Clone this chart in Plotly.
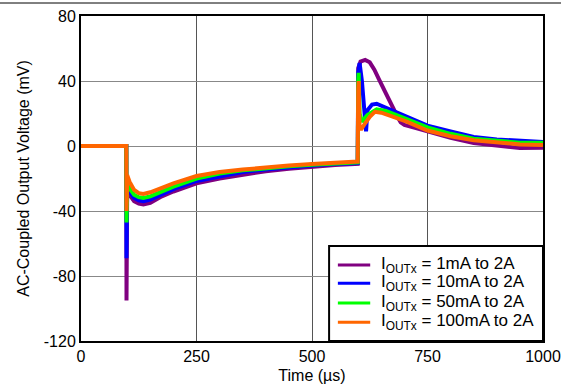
import plotly.graph_objects as go

# ---- data ----
names = ["I<sub>OUTx</sub> = 1mA to 2A", "I<sub>OUTx</sub> = 10mA to 2A",
         "I<sub>OUTx</sub> = 50mA to 2A", "I<sub>OUTx</sub> = 100mA to 2A"]
colors = ["#800080", "#0000FF", "#00FF00", "#FF6600"]

t_1mA = [0, 50, 98, 98.5, 99, 100, 105, 115, 125, 135, 150, 175, 200, 250, 300, 350, 400, 450, 500, 550, 599,
         600, 605, 615, 625, 635, 645, 655, 670, 685, 692, 700, 725, 750, 800, 850, 900, 950, 1000]
v_1mA = [0, 0, 0, -95, -40, -26, -30, -34, -35.5, -36, -35, -31, -28, -23, -20, -17.5, -15.5, -14, -12.7, -11.7, -11,
         48, 52, 53, 51.5, 47, 41, 35, 27, 18, 14.5, 13, 11, 8.8, 5, 1.8, 0, -1.2, -1]

t_10mA = [0, 50, 98, 98.5, 99, 100, 105, 115, 125, 135, 150, 175, 200, 250, 300, 350, 400, 450, 500, 550, 599,
          600, 603, 608, 613, 617, 620, 630, 640, 660, 680, 705, 750, 800, 850, 900, 950, 1000]
v_10mA = [0, 0, 0, -69, -35, -24, -28, -32, -33.5, -34, -33, -29.5, -26.5, -21.5, -18.5, -16, -14.5, -13, -12, -11, -10.5,
          45, 51, 40, 20, 9, 22, 25.5, 26, 23.5, 21, 18, 12.5, 9, 5.5, 4, 3, 2.5]

t_50mA = [0, 50, 98, 98.5, 99, 100, 105, 115, 125, 135, 150, 175, 200, 250, 300, 350, 400, 450, 500, 550, 599,
          600, 601, 603, 608, 620, 640, 660, 680, 705, 750, 800, 850, 900, 950, 1000]
v_50mA = [0, 0, 0, -47, -30, -22, -26, -30, -31.5, -32, -31, -28, -25, -20, -17, -15, -13.5, -12.5, -11.5, -10.5, -10,
          40, 45, 20, 15, 19, 22.5, 21.5, 19.5, 16.5, 11.5, 7.5, 4.5, 3, 2, 2]

t_100mA = [0, 50, 98, 98.5, 99, 100, 105, 115, 125, 135, 150, 175, 200, 250, 300, 350, 400, 450, 500, 550, 599,
           600, 601, 603, 606, 615, 625, 636, 650, 670, 705, 750, 800, 850, 900, 950, 1000]
v_100mA = [0, 0, 0, -40, -25, -18, -22, -27, -29, -29.5, -28.5, -25.5, -23, -18.5, -16, -14.5, -13, -12, -11, -10, -9.6,
           35, 40, 12, 10, 14, 18, 21, 20.5, 18.5, 15, 9.5, 6, 3.5, 2, 1, 0.6]

series_t = [t_1mA, t_10mA, t_50mA, t_100mA]
series_v = [v_1mA, v_10mA, v_50mA, v_100mA]

x_ticks = [0, 250, 500, 750, 1000]
y_ticks = [-120, -80, -40, 0, 40, 80]

font_family = "Arial, Liberation Sans, sans-serif"

fig = go.Figure()
for n, c, t, v in zip(names, colors, series_t, series_v):
    fig.add_trace(go.Scatter(x=t, y=v, mode="lines", name=n, showlegend=False,
                             line=dict(color=c, width=4)))

fig.update_layout(
    width=561, height=389,
    margin=dict(l=81, r=18, t=16, b=48, autoexpand=False),
    paper_bgcolor="white", plot_bgcolor="white",
    font=dict(family=font_family, size=16, color="black"),
    showlegend=False,
)
fig.update_xaxes(range=[0, 1000], tickvals=x_ticks, ticktext=[str(v) for v in x_ticks],
                 showgrid=True, gridcolor="#555555", gridwidth=1,
                 showline=True, linecolor="black", linewidth=2, mirror=True,
                 zeroline=False, ticks="", automargin=False,
                 title=dict(text="Time (µs)", standoff=6, font=dict(size=16)),
                 tickfont=dict(size=16))
fig.update_yaxes(range=[-120, 80], tickvals=y_ticks, ticktext=[str(v) for v in y_ticks],
                 showgrid=True, gridcolor="#888888", gridwidth=1,
                 showline=True, linecolor="black", linewidth=2, mirror=True,
                 zeroline=False, ticks="", automargin=False,
                 title=dict(text="AC-Coupled Output Voltage (mV)", standoff=10, font=dict(size=16)),
                 tickfont=dict(size=16))

# ---- legend box drawn in the lower-right corner of the plot area ----
box_x0, box_y1 = 0.537, 0.292
row_y = [0.234, 0.178, 0.117, 0.058]
line_x0, line_x1, text_x = 0.556, 0.626, 0.645
fig.add_shape(type="rect", xref="paper", yref="paper",
              x0=box_x0, x1=1, y0=0, y1=box_y1,
              line=dict(color="black", width=2), fillcolor="white", layer="above")
for n, c, ry in zip(names, colors, row_y):
    fig.add_shape(type="line", xref="paper", yref="paper",
                  x0=line_x0, x1=line_x1, y0=ry, y1=ry,
                  line=dict(color=c, width=3), layer="above")
    fig.add_annotation(xref="paper", yref="paper", x=text_x, y=ry,
                       xanchor="left", yanchor="middle", showarrow=False,
                       text=n, font=dict(size=17, family=font_family, color="black"))

# page separator line at the very top
fig.add_shape(type="line", xref="paper", yref="paper",
              x0=-81 / 462, x1=480 / 462, y0=1 + 13 / 325, y1=1 + 13 / 325,
              line=dict(color="black", width=1))

fig.write_html("out.html", config={"displayModeBar": False},
               post_script="document.body.style.margin='0';")
